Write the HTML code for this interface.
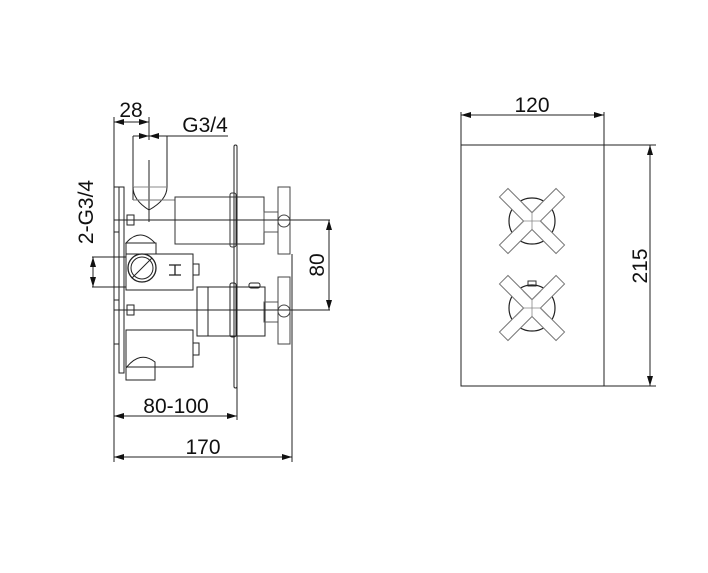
<!DOCTYPE html>
<html><head><meta charset="utf-8"><style>
html,body{margin:0;padding:0;background:#fff;}
svg{display:block;}
text{font-family:"Liberation Sans",sans-serif;font-size:21px;fill:#111;}
</style></head><body>
<svg width="708" height="573" viewBox="0 0 708 573" xmlns="http://www.w3.org/2000/svg">
<defs>
<marker id="a" viewBox="0 0 10 6" refX="10" refY="3" markerWidth="10" markerHeight="6" orient="auto-start-reverse" markerUnits="userSpaceOnUse"><path d="M0,0 L10,3 L0,6 z" fill="#111"/></marker>
<g id="knob">
<circle cx="0" cy="0" r="23" fill="none" stroke="#222" stroke-width="1.2"/>
<polygon transform="rotate(45)" points="-6,-40 6,-40 6,-6 40,-6 40,6 6,6 6,40 -6,40 -6,6 -40,6 -40,-6 -6,-6" fill="#fff" stroke="#777" stroke-width="1"/>
<path d="M0,-8 V8 M-8,0 H8 M0,-8 L-9,-17 M0,-8 L9,-17 M-8,0 L-17,9 M8,0 L17,9" stroke="#888" stroke-width="0.8" fill="none"/>
</g>
<g id="handle">
<rect x="175" y="197" width="89" height="47" fill="none" stroke="#333" stroke-width="1"/>
<rect x="230" y="193" width="6" height="54" rx="2" fill="none" stroke="#333" stroke-width="1"/>
<rect x="264" y="212" width="14" height="20" fill="none" stroke="#555" stroke-width="1"/>
<rect x="278" y="187" width="12" height="67" fill="none" stroke="#444" stroke-width="1"/>
<circle cx="284" cy="221" r="6" fill="none" stroke="#444" stroke-width="1"/>
</g>
</defs>
<g stroke="#222" stroke-width="1" fill="none">
<line x1="114" y1="117" x2="114" y2="462"/>
<line x1="149" y1="117" x2="149" y2="140"/>
<line x1="292" y1="254" x2="292" y2="462"/>
<line x1="237" y1="385" x2="237" y2="420"/>
<line x1="114" y1="122" x2="149" y2="122" marker-start="url(#a)" marker-end="url(#a)"/>
<line x1="133" y1="136" x2="228" y2="136"/>
<line x1="133" y1="136" x2="149" y2="136" marker-end="url(#a)"/>
<line x1="167" y1="136" x2="149" y2="136" marker-end="url(#a)"/>
<line x1="133" y1="136" x2="133" y2="187"/>
<line x1="167" y1="136" x2="167" y2="187"/>
<line x1="149" y1="160" x2="149" y2="222"/>
<path d="M133,187 Q133,200 149,210 Q167,200 167,187"/>
<line x1="133" y1="187" x2="167" y2="187" stroke="#888"/>
<line x1="133" y1="187" x2="133" y2="200"/>
<line x1="133" y1="200" x2="175" y2="200" stroke="#777"/>
<rect x="234" y="145" width="3" height="243" rx="1.5"/>
<use href="#handle"/>
<rect x="197" y="287" width="68" height="49"/>
<line x1="208" y1="287" x2="208" y2="336"/>
<rect x="230" y="283" width="6" height="54" rx="2"/>
<rect x="264" y="302" width="14" height="20" stroke="#555"/>
<rect x="278" y="277" width="12" height="67" stroke="#444"/>
<circle cx="284" cy="311" r="6" stroke="#444"/>
<rect x="249" y="283" width="11" height="5" rx="2"/>
<rect x="114" y="187" width="5" height="45"/>
<rect x="114" y="300" width="5" height="44"/>
<rect x="119" y="187" width="5" height="186"/>
<rect x="127" y="215" width="7" height="10"/>
<rect x="127" y="305" width="7" height="10"/>
<path d="M126,243 Q140,227 155,243 Z"/>
<rect x="126" y="243" width="30" height="11"/>
<rect x="126" y="254" width="67" height="36"/>
<circle cx="142" cy="268" r="14" stroke-width="1.3"/>
<circle cx="142" cy="268" r="11"/>
<line x1="132" y1="278" x2="152" y2="258"/>
<path d="M169,265 H181 M169,275 H181 M175,265 V275" stroke-width="1.3"/>
<rect x="193" y="264" width="6" height="11"/>
<rect x="126" y="330" width="67" height="37"/>
<rect x="193" y="343" width="6" height="12"/>
<path d="M126,380 L126,368 Q140,350 155,362 L155,380 Z"/>
<line x1="114" y1="220" x2="330" y2="220"/>
<line x1="114" y1="310" x2="330" y2="310"/>
<line x1="329" y1="220" x2="329" y2="310" marker-start="url(#a)" marker-end="url(#a)"/>
<line x1="92" y1="257" x2="126" y2="257"/>
<line x1="92" y1="287" x2="126" y2="287"/>
<line x1="93" y1="257" x2="93" y2="287" marker-start="url(#a)" marker-end="url(#a)"/>
<line x1="114" y1="416" x2="237" y2="416" marker-start="url(#a)" marker-end="url(#a)"/>
<line x1="114" y1="457" x2="292" y2="457" marker-start="url(#a)" marker-end="url(#a)"/>
<rect x="461" y="145" width="143" height="241"/>
<line x1="461" y1="112" x2="461" y2="145"/>
<line x1="604" y1="112" x2="604" y2="145"/>
<line x1="461" y1="115" x2="604" y2="115" marker-start="url(#a)" marker-end="url(#a)"/>
<line x1="604" y1="145" x2="656" y2="145"/>
<line x1="604" y1="386" x2="656" y2="386"/>
<line x1="650" y1="145" x2="650" y2="386" marker-start="url(#a)" marker-end="url(#a)"/>
</g>
<use href="#knob" transform="translate(532,221)"/>
<rect x="528" y="281" width="8" height="5" fill="#fff" stroke="#333"/>
<use href="#knob" transform="translate(532,308)"/>
<text x="131" y="117" text-anchor="middle">28</text>
<text x="205" y="132" text-anchor="middle">G3/4</text>
<text transform="translate(93,212) rotate(-90)" text-anchor="middle">2-G3/4</text>
<text transform="translate(324,265) rotate(-90)" text-anchor="middle">80</text>
<text x="176" y="413" text-anchor="middle">80-100</text>
<text x="203" y="454" text-anchor="middle">170</text>
<text x="532" y="112" text-anchor="middle">120</text>
<text transform="translate(647,266) rotate(-90)" text-anchor="middle">215</text>
</svg>
</body></html>
